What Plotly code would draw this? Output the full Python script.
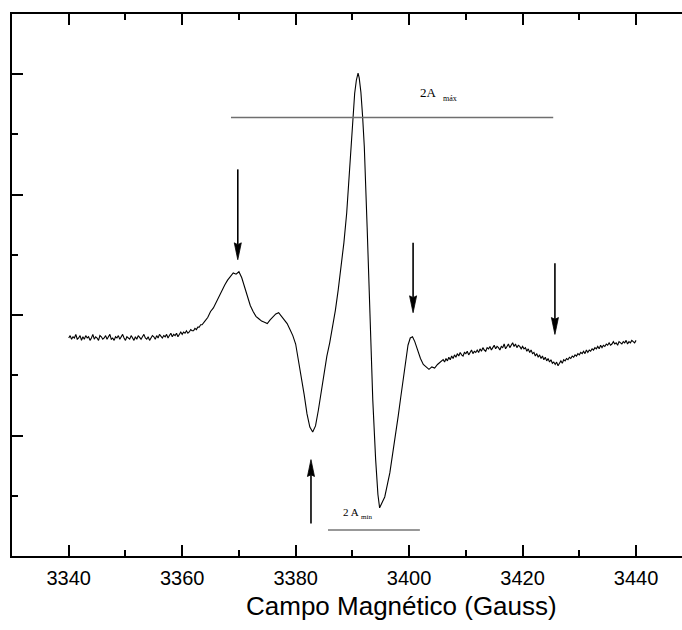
import plotly.graph_objects as go

# ---- data (field in Gauss, intensity in arbitrary units) ----
FIELD = [
    3340.00, 3340.25, 3340.50, 3340.75, 3341.00, 3341.25, 3341.50, 3341.75, 3342.00, 3342.25,
    3342.50, 3342.75, 3343.00, 3343.25, 3343.50, 3343.75, 3344.00, 3344.25, 3344.50, 3344.75,
    3345.00, 3345.25, 3345.50, 3345.75, 3346.00, 3346.25, 3346.50, 3346.75, 3347.00, 3347.25,
    3347.50, 3347.75, 3348.00, 3348.25, 3348.50, 3348.75, 3349.00, 3349.25, 3349.50, 3349.75,
    3350.00, 3350.25, 3350.50, 3350.75, 3351.00, 3351.25, 3351.50, 3351.75, 3352.00, 3352.25,
    3352.50, 3352.75, 3353.00, 3353.25, 3353.50, 3353.75, 3354.00, 3354.25, 3354.50, 3354.75,
    3355.00, 3355.25, 3355.50, 3355.75, 3356.00, 3356.25, 3356.50, 3356.75, 3357.00, 3357.25,
    3357.50, 3357.75, 3358.00, 3358.25, 3358.50, 3358.75, 3359.00, 3359.25, 3359.50, 3359.75,
    3360.00, 3360.25, 3360.50, 3360.75, 3361.00, 3361.25, 3361.50, 3361.75, 3362.00, 3362.25,
    3362.50, 3362.75, 3363.00, 3363.25, 3363.50, 3363.75,
    3364.0, 3364.5, 3365.0, 3365.5, 3366.0, 3366.5, 3367.0, 3367.5, 3368.0, 3368.5,
    3369.0, 3369.5, 3370.0, 3370.5, 3371.0, 3371.5, 3372.0, 3372.5, 3373.0, 3373.5,
    3374.0, 3374.5, 3375.0, 3375.5, 3376.0, 3376.5, 3377.0, 3377.5, 3378.0, 3378.5,
    3379.0, 3379.5, 3380.0, 3380.5, 3381.0, 3381.5, 3382.0, 3382.5, 3383.0, 3383.5,
    3384.0, 3384.5, 3385.0, 3385.5, 3386.0, 3386.5, 3387.0, 3387.5, 3388.0, 3388.5,
    3389.0, 3389.5, 3390.0, 3390.4, 3390.7, 3391.0, 3391.2, 3391.5, 3391.8, 3392.1,
    3392.6, 3393.1, 3393.6, 3394.1, 3394.5, 3394.8, 3395.2, 3395.7, 3396.2, 3396.6,
    3397.1, 3397.6, 3398.1, 3398.5, 3399.0, 3399.4, 3399.8, 3400.2, 3400.6, 3401.0,
    3401.5, 3402.0, 3402.5, 3403.0, 3403.5, 3404.0, 3404.5, 3405.0, 3405.5,
    3406.00, 3406.25, 3406.50, 3406.75, 3407.00, 3407.25, 3407.50, 3407.75,
    3408.00, 3408.25, 3408.50, 3408.75, 3409.00, 3409.25, 3409.50, 3409.75,
    3410.00, 3410.25, 3410.50, 3410.75, 3411.00, 3411.25, 3411.50, 3411.75,
    3412.00, 3412.25, 3412.50, 3412.75, 3413.00, 3413.25, 3413.50, 3413.75,
    3414.00, 3414.25, 3414.50, 3414.75, 3415.00, 3415.25, 3415.50, 3415.75,
    3416.00, 3416.25, 3416.50, 3416.75, 3417.00, 3417.25, 3417.50, 3417.75,
    3418.00, 3418.25, 3418.50, 3418.75, 3419.00, 3419.25, 3419.50, 3419.75,
    3420.00, 3420.25, 3420.50, 3420.75, 3421.00, 3421.25, 3421.50, 3421.75,
    3422.00, 3422.25, 3422.50, 3422.75, 3423.00, 3423.25, 3423.50, 3423.75,
    3424.00, 3424.25, 3424.50, 3424.75, 3425.00, 3425.25, 3425.50, 3425.75,
    3426.00, 3426.25, 3426.50, 3426.75, 3427.00, 3427.25, 3427.50, 3427.75,
    3428.00, 3428.25, 3428.50, 3428.75, 3429.00, 3429.25, 3429.50, 3429.75,
    3430.00, 3430.25, 3430.50, 3430.75, 3431.00, 3431.25, 3431.50, 3431.75,
    3432.00, 3432.25, 3432.50, 3432.75, 3433.00, 3433.25, 3433.50, 3433.75,
    3434.00, 3434.25, 3434.50, 3434.75, 3435.00, 3435.25, 3435.50, 3435.75,
    3436.00, 3436.25, 3436.50, 3436.75, 3437.00, 3437.25, 3437.50, 3437.75,
    3438.00, 3438.25, 3438.50, 3438.75, 3439.00, 3439.25, 3439.50, 3439.75,
    3440.00,
]
SIGNAL = [
    181, 183, 180, 182, 181, 184, 180, 181, 183, 179,
    182, 180, 183, 181, 182, 179, 181, 184, 180, 182,
    181, 179, 183, 182, 180, 181, 183, 180, 182, 184,
    180, 181, 179, 182, 181, 183, 180, 182, 184, 181,
    179, 182, 181, 180, 183, 181, 179, 182, 180, 183,
    181, 180, 182, 184, 181, 180, 182, 179, 181, 183,
    182, 180, 183, 181, 184, 182, 181, 183, 182, 184,
    181, 183, 185, 182, 184, 183, 185, 182, 184, 186,
    184, 186, 185, 187, 185, 186, 188, 187, 187, 189,
    188, 190, 190, 192, 192, 194,
    195, 198, 203, 206, 211, 215, 220, 225, 229, 232,
    235, 234, 236, 231, 223, 216, 208, 203, 199, 197,
    195, 194, 193, 196, 199, 201, 202, 199, 197, 193,
    188, 183, 176, 163, 150, 134, 118, 107, 103, 108,
    121, 136, 152, 166, 177, 190, 204, 221, 240, 260,
    285, 318, 350, 384, 395, 401, 397, 385, 365, 340,
    273, 196, 129, 80, 51, 40, 44, 49, 60, 69,
    85, 100, 117, 131, 148, 163, 175, 181, 182, 178,
    170, 164, 159, 157, 155, 157, 156, 159, 161,
    163, 161, 164, 162, 165, 163, 166, 164,
    167, 165, 168, 166, 169, 167, 166, 169,
    168, 170, 167, 169, 171, 168, 170, 169,
    171, 169, 172, 170, 173, 171, 170, 173,
    172, 174, 171, 173, 175, 172, 174, 173,
    171, 174, 173, 176, 172, 174, 176, 173,
    175, 177, 174, 176, 173, 175, 174, 172,
    174, 172, 173, 170, 172, 169, 171, 168,
    169, 166, 168, 165, 167, 164, 166, 163,
    165, 162, 164, 161, 163, 160, 161, 159,
    161, 158, 160, 162, 160, 163, 162, 164,
    163, 165, 164, 166, 165, 167, 166, 168,
    167, 169, 168, 170, 168, 171, 169, 171,
    170, 172, 171, 173, 172, 174, 172, 175,
    173, 175, 174, 176, 175, 177, 175, 176,
    178, 176, 177, 175, 178, 177, 176, 178,
    177, 179, 176, 178, 177, 179, 178, 177,
    179,
]

X_TICKS = [3340, 3360, 3380, 3400, 3420, 3440]
X_TICK_LABELS = ["3340", "3360", "3380", "3400", "3420", "3440"]
X_TITLE = "Campo Magnético (Gauss)"

# marker arrows: field position, tail intensity, tip intensity
ARROW_FIELD = [3369.8, 3382.7, 3400.7, 3425.7]
ARROW_TAIL = [321, 27, 260, 243]
ARROW_TIP = [246, 80, 202, 184]

# 2A max / 2A min reference lines: start, end, level
HLINE_START = [3368.6, 3385.7]
HLINE_END = [3425.4, 3401.9]
HLINE_LEVEL = [364, 21.6]

# labels
LABEL_MAIN = ["2A", "2 A"]
LABEL_MAIN_X = [3403.5, 3389.7]
LABEL_MAIN_Y = [385, 36.5]
LABEL_SUB = ["máx", "mín"]
LABEL_SUB_X = [3407.2, 3392.5]
LABEL_SUB_Y = [380, 32]

# ---- style ----
HEAD_HALF_W = 0.62   # gauss
HEAD_LEN = 12.5      # intensity units
SERIF = "Liberation Serif, Times New Roman, serif"
SANS = "Liberation Sans, Arial, sans-serif"

fig = go.Figure()

fig.add_trace(go.Scatter(x=FIELD, y=SIGNAL, mode="lines",
                         line=dict(color="black", width=1.1),
                         hoverinfo="skip", showlegend=False))

# reference horizontal lines
hcolors = ["#6f6f6f", "#333333"]
hwidths = [1.5, 1.2]
for s, e, lv, c, w in zip(HLINE_START, HLINE_END, HLINE_LEVEL, hcolors, hwidths):
    fig.add_trace(go.Scatter(x=[s, e], y=[lv, lv], mode="lines",
                             line=dict(color=c, width=w),
                             hoverinfo="skip", showlegend=False))

# arrows
for xf, tail, tip in zip(ARROW_FIELD, ARROW_TAIL, ARROW_TIP):
    direction = 1 if tail > tip else -1
    base = tip + direction * HEAD_LEN
    fig.add_trace(go.Scatter(x=[xf, xf], y=[tail, base], mode="lines",
                             line=dict(color="black", width=1.6),
                             hoverinfo="skip", showlegend=False))
    fig.add_trace(go.Scatter(x=[xf - HEAD_HALF_W, xf, xf + HEAD_HALF_W, xf, xf - HEAD_HALF_W],
                             y=[base + direction * 1.5, tip, base + direction * 1.5, base, base + direction * 1.5],
                             mode="lines", fill="toself", fillcolor="black",
                             line=dict(color="black", width=0.8),
                             hoverinfo="skip", showlegend=False))

main_sizes = [13, 11]
sub_sizes = [8, 7]
for t, x, y, s in zip(LABEL_MAIN, LABEL_MAIN_X, LABEL_MAIN_Y, main_sizes):
    fig.add_annotation(x=x, y=y, text=t, showarrow=False,
                       font=dict(family=SERIF, size=s, color="black"))
for t, x, y, s in zip(LABEL_SUB, LABEL_SUB_X, LABEL_SUB_Y, sub_sizes):
    fig.add_annotation(x=x, y=y, text=t, showarrow=False,
                       font=dict(family=SERIF, size=s, color="black"))

# axis title (offset to the right as in the original)
fig.add_annotation(xref="paper", yref="paper", x=0.582, y=-0.092,
                   xanchor="center", yanchor="middle", showarrow=False,
                   text=X_TITLE, font=dict(family=SANS, size=26, color="black"))

fig.update_xaxes(
    range=[3330, 3448.1], tickmode="array", tickvals=X_TICKS, ticktext=X_TICK_LABELS,
    ticks="inside", ticklen=11, tickwidth=2, tickcolor="black",
    showline=True, linewidth=2, linecolor="black", mirror="ticks",
    showgrid=False, zeroline=False,
    minor=dict(dtick=10, tick0=3330, ticks="inside", ticklen=6, tickwidth=2,
               tickcolor="black", showgrid=False),
    tickfont=dict(family=SANS, size=20, color="black"),
    ticklabelstandoff=3,
)
fig.update_yaxes(
    range=[0, 450], tick0=0, dtick=100,
    ticks="inside", ticklen=11, tickwidth=2, tickcolor="black",
    showticklabels=False,
    showline=True, linewidth=2, linecolor="black", mirror=False,
    showgrid=False, zeroline=False,
    minor=dict(dtick=50, tick0=0, ticks="inside", ticklen=6, tickwidth=2,
               tickcolor="black", showgrid=False),
)

fig.update_layout(
    width=682, height=630,
    margin=dict(l=12, r=0, t=14, b=74),
    plot_bgcolor="white", paper_bgcolor="white",
    showlegend=False,
)

fig.write_html("out.html")
